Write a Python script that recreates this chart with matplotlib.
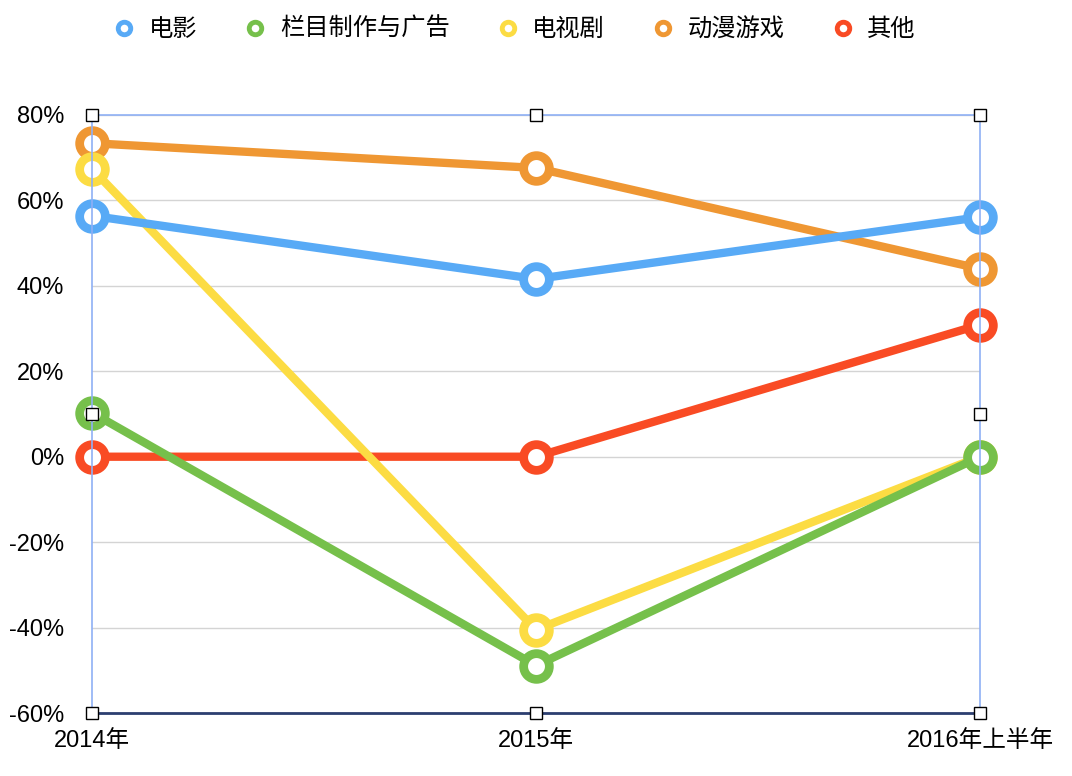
import matplotlib
matplotlib.use("Agg")
import matplotlib.pyplot as plt
from matplotlib.ticker import FuncFormatter

plt.rcParams['font.family'] = ['Liberation Sans', 'Noto Sans CJK SC', 'DejaVu Sans']

years = ['2014年', '2015年', '2016年上半年']
series_names = ['电影', '栏目制作与广告', '电视剧', '动漫游戏', '其他']
movie = [56.4, 41.6, 56.1]
program_ads = [10.3, -48.9, 0.0]
tv_drama = [67.4, -40.5, 0.0]
anime_games = [73.4, 67.6, 44.0]
others = [0.0, 0.0, 30.9]
colors = ['#58aaf6', '#76c04b', '#fcdc43', '#ef9733', '#f94b24']

values = [movie, program_ads, tv_drama, anime_games, others]

fig = plt.figure(figsize=(10.72, 7.76), dpi=100)
ax = fig.add_axes([92 / 1072, 1 - 713 / 776, (980 - 92) / 1072, (713 - 115) / 776])

x = list(range(len(years)))
lines = []
for i, (name, vals, c) in enumerate(zip(series_names, values, colors)):
    ln, = ax.plot(x, vals, color=c, lw=6, marker='o', ms=18.5, mew=6.3,
                  mfc='white', mec=c, label=name, clip_on=False,
                  zorder=2 - i * 0.1, solid_capstyle='round')
    lines.append(ln)

ax.set_xlim(0, 2)
ax.set_ylim(-60, 80)
ax.set_yticks(range(-60, 81, 20))
ax.yaxis.set_major_formatter(FuncFormatter(lambda v, p: f'{v:.0f}%'))
ax.set_xticks(x)
ax.set_xticklabels(years)
ax.tick_params(axis='both', length=0, labelsize=17)
ax.tick_params(axis='y', pad=20)
ax.tick_params(axis='x', pad=12)
ax.grid(axis='y', color='#d4d4d4', lw=1)
ax.set_axisbelow(True)

for s in ['left', 'right', 'top']:
    ax.spines[s].set_color('#8fb0f5')
    ax.spines[s].set_linewidth(1.2)
    ax.spines[s].set_zorder(5)
ax.spines['bottom'].set_color('#2c3e70')
ax.spines['bottom'].set_linewidth(2)
ax.spines['bottom'].set_zorder(5)

# selection handles
hx = [0, 0.5, 1, 0, 1, 0, 0.5, 1]
hy = [1, 1, 1, 0.5, 0.5, 0, 0, 0]
ax.plot(hx, hy, 's', ms=8, mfc='white', mec='black', mew=1,
        transform=ax.transAxes, clip_on=False, zorder=10, ls='none')

leg = fig.legend(handles=lines, loc='upper center', bbox_to_anchor=(0.48, 1.0),
                 ncol=5, frameon=False, fontsize=17.5, handlelength=0.9,
                 handletextpad=0.55, columnspacing=1.95,
                 borderaxespad=0.35)
for h in leg.legend_handles:
    h.set_linewidth(0)
    h.set_markeredgewidth(3.5)
    h.set_markersize(9)

fig.savefig('out.png', dpi=100)
